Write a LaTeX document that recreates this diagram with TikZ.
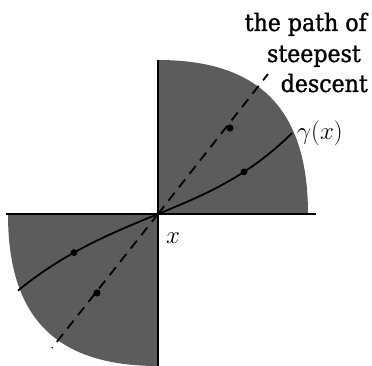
\documentclass[tikz,border=0pt]{standalone}
\usepackage{fontspec}
\newfontfamily\lblfont[FakeStretch=0.92,FakeBold=1.2]{DejaVu Serif}
\tikzset{
  region/.style={fill=black!64},
  axis/.style={line width=2.3pt},
  descent/.style={line width=1.8pt, dash pattern=on 10pt off 7pt},
  gammacurve/.style={line width=1.8pt},
  lbl/.style={font=\lblfont\fontsize{24}{30.5}\selectfont, inner sep=0pt, anchor=base east},
  mathlbl/.style={font=\fontsize{24}{28}\selectfont, inner sep=0pt},
  blob/.style={fill=black}
}
\begin{document}
\begin{tikzpicture}[x=1pt,y=1pt]
\useasboundingbox (-158,-152) rectangle (214,214);
% shaded regions
\fill[region] (0,0) -- (0,154) .. controls (102,154) and (150,104) .. (150,0) -- cycle;
\fill[region] (0,0) -- (-150,0) .. controls (-150,-104) and (-102,-152) .. (0,-152) -- cycle;
% axes
\coordinate (O) at (0,0);
\coordinate (top) at (0,154);
\coordinate (right) at (158,0);
\coordinate (left) at (-152,0);
\coordinate (bottom) at (0,-152);
\draw[axis] (top) -- (O) -- (right);
\draw[axis] (left) -- (O) -- (bottom);
% steepest descent line
\coordinate (d1) at (-106,-134);
\coordinate (d2) at (110,140);
\draw[descent] (O) -- (d2);
\draw[descent] (O) -- (d1);
\fill[blob] (72,86) circle (3.6pt);
\fill[blob] (-61,-79) circle (3.6pt);
% gamma curve
\draw[gammacurve, domain=0:134, samples=40] plot (\x,{0.41*\x + 10.8*(\x/100)^3});
\draw[gammacurve, domain=-140:0, samples=40] plot (\x,{0.41*\x + 7*(\x/100)^3});
\fill[blob] (86,{0.41*86+10.8*(0.86)^3}) circle (3.4pt);
\fill[blob] (-84,{-0.41*84-7*(0.84)^3}) circle (3.4pt);
% labels
\node[lbl] (sd1) at (209,183) {the path of};
\node[lbl] (sd2) at (203,152) {steepest};
\node[lbl] (sd3) at (210,122) {descent};
\node[mathlbl, anchor=west] (g) at (139,81) {$\gamma(x)$};
\node[mathlbl, anchor=west] (xl) at (8,-24) {$x$};
\end{tikzpicture}
\end{document}
